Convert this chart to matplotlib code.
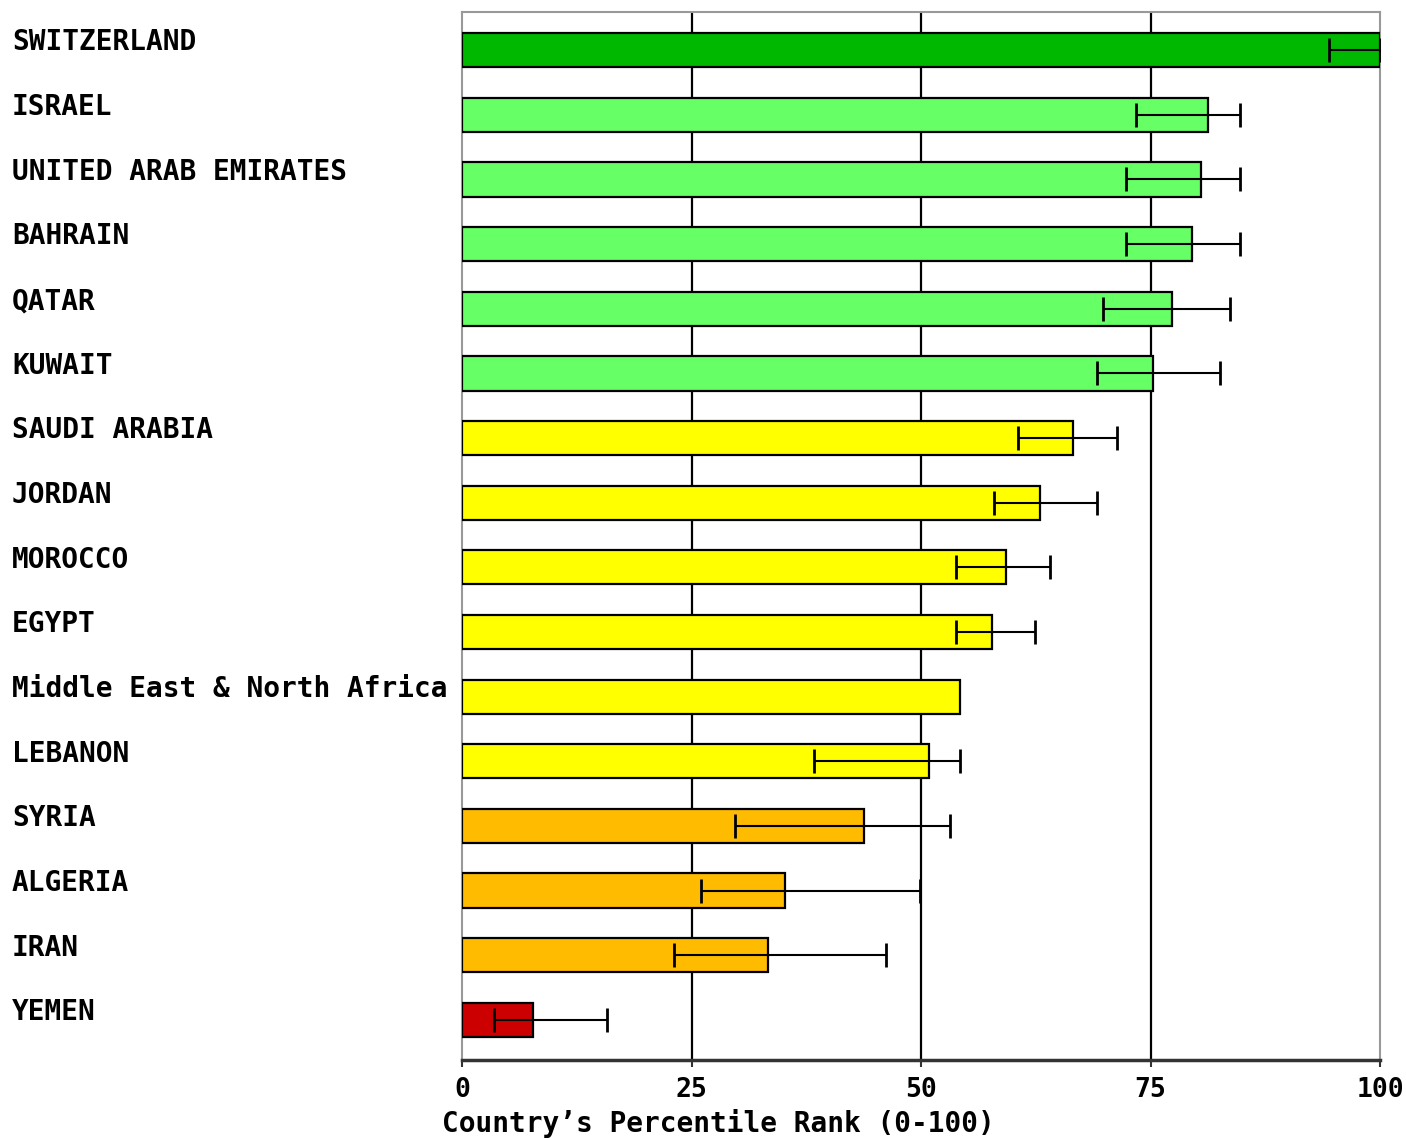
import matplotlib
matplotlib.use('Agg')
import matplotlib.pyplot as plt
from matplotlib.transforms import blended_transform_factory

countries = ['SWITZERLAND', 'ISRAEL', 'UNITED ARAB EMIRATES', 'BAHRAIN', 'QATAR',
             'KUWAIT', 'SAUDI ARABIA', 'JORDAN', 'MOROCCO', 'EGYPT',
             'Middle East & North Africa', 'LEBANON', 'SYRIA', 'ALGERIA', 'IRAN', 'YEMEN']
rank = [100.0, 81.3, 80.5, 79.5, 77.3, 75.3, 66.6, 63.0, 59.3, 57.7,
        54.3, 50.9, 43.8, 35.2, 33.3, 7.7]
err_low = [94.4, 73.4, 72.3, 72.3, 69.8, 69.2, 60.6, 57.9, 53.8, 53.8,
           None, 38.3, 29.7, 26.0, 23.1, 3.5]
err_high = [100.0, 84.7, 84.7, 84.7, 83.7, 82.6, 71.3, 69.2, 64.0, 62.4,
            None, 54.3, 53.2, 49.9, 46.2, 15.8]
bar_colors = ['#00B800'] + ['#66FF66'] * 5 + ['#FFFF00'] * 6 + ['#FFBB00'] * 3 + ['#CC0000']
xticks = [0, 25, 50, 75, 100]

FONT = 'DejaVu Sans Mono'

fig = plt.figure(figsize=(14.06, 11.38), dpi=100)
ax = fig.add_axes([462 / 1406, 1 - 1060 / 1138, 918 / 1406, 1048 / 1138])

ypos = list(range(len(countries)))
ax.barh(ypos, rank, height=0.53, color=bar_colors, edgecolor='black', linewidth=1.6, zorder=3)

# intervalos de confianza (la media regional no lleva)
for i in ypos:
    if err_low[i] is None:
        continue
    c = rank[i]
    ax.errorbar(c, i, xerr=[[c - err_low[i]], [err_high[i] - c]], fmt='none',
                ecolor='black', elinewidth=1.5, capsize=8.5, capthick=2, zorder=4)

ax.set_xlim(0, 100)
ax.set_ylim(len(countries) - 0.38, -0.59)
ax.set_yticks([])
ax.set_xticks(xticks)
ax.set_xticklabels([str(t) for t in xticks], family=FONT, fontweight='bold', fontsize=19)
ax.tick_params(axis='x', direction='out', length=5, width=1.5, color='#333333', pad=7)

for x in xticks[1:-1]:
    ax.axvline(x, color='black', linewidth=1.6, zorder=1)

for side in ['top', 'left', 'right']:
    ax.spines[side].set_color('#999999')
    ax.spines[side].set_linewidth(1.5)
ax.spines['bottom'].set_color('#333333')
ax.spines['bottom'].set_linewidth(2.5)

tr = blended_transform_factory(fig.transFigure, ax.transData)
for i, name in enumerate(countries):
    ax.text(12 / 1406, i - 0.12, name, transform=tr, ha='left', va='center',
            family=FONT, fontweight='bold', fontsize=20, clip_on=False)

fig.text(442 / 1406, 1 - 1124 / 1138, 'Country\u2019s Percentile Rank (0-100)',
         ha='left', va='center', family=FONT, fontweight='bold', fontsize=20)

fig.savefig('out.png', dpi=100, facecolor='white')
